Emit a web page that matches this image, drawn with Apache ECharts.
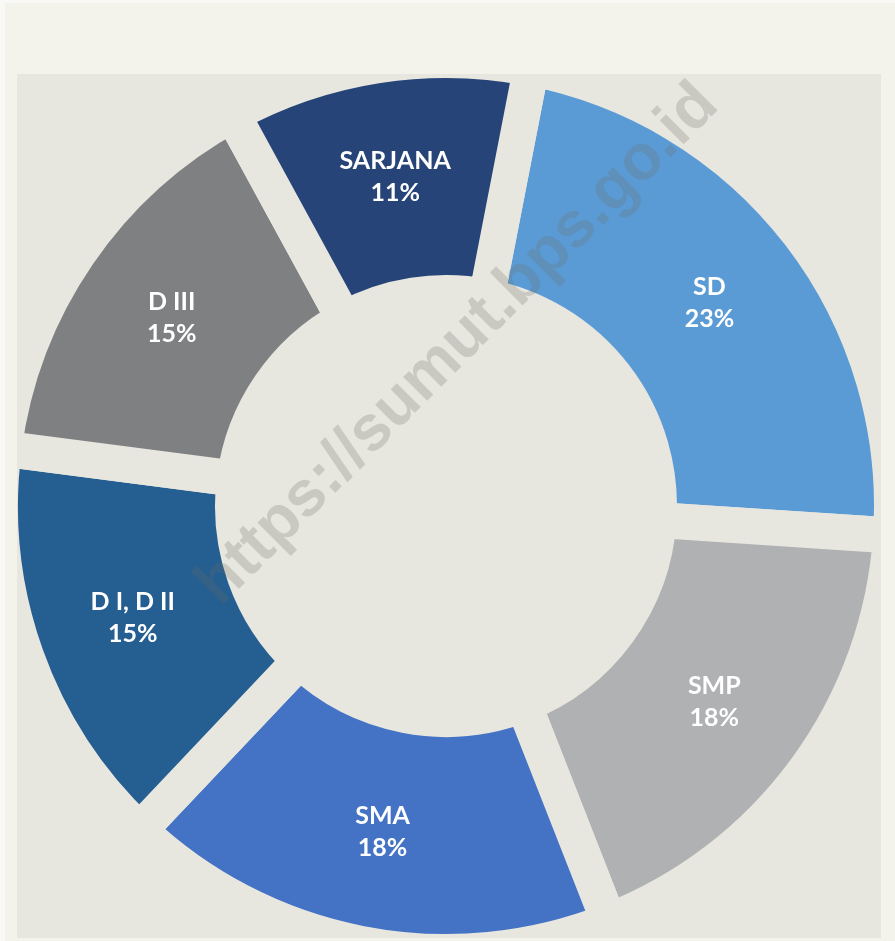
<!DOCTYPE html>
<html>
<head>
<meta charset="utf-8">
<script src="https://cdn.jsdelivr.net/npm/echarts@6/dist/echarts.min.js"></script>
<style>
  html, body { margin: 0; padding: 0; background: #f8f8f4; }
  #chart { width: 895px; height: 941px; }
</style>
</head>
<body>
<div id="chart"></div>
<script>
const categories = ["SD", "SMP", "SMA", "D I, D II", "D III", "SARJANA"]
const shares = [23, 18, 18, 15, 15, 11]
const colors = ["#5b9bd5", "#b0b1b3", "#4472c4", "#255e91", "#7f8082", "#264478"]

const pageBg = "#f8f8f4"
const panelBg = "#f3f3eb"
const innerBg = "#e7e6df"

// the frame round the inner plate is painted over the pie so the slice borders stay inside it
const frame = [
  {type: "rect", z: 50, shape: {x: 0, y: 0, width: 895, height: 74}, style: {fill: panelBg}},
  {type: "rect", z: 50, shape: {x: 0, y: 938, width: 895, height: 3}, style: {fill: panelBg}},
  {type: "rect", z: 50, shape: {x: 0, y: 0, width: 17, height: 941}, style: {fill: panelBg}},
  {type: "rect", z: 50, shape: {x: 881, y: 0, width: 14, height: 941}, style: {fill: panelBg}},
  {type: "rect", z: 51, shape: {x: 0, y: 0, width: 5, height: 941}, style: {fill: pageBg}},
  {type: "rect", z: 51, shape: {x: 0, y: 0, width: 895, height: 3}, style: {fill: pageBg}}
]

const chart = echarts.init(document.getElementById("chart"))
chart.setOption({
  animation: false,
  backgroundColor: innerBg,
  graphic: frame.concat([
    {
      type: "text",
      z: 100,
      x: 458,
      y: 345,
      rotation: Math.PI / 4,
      style: {
        text: "https://sumut.bps.go.id",
        font: 'bold 64px "Liberation Sans", Arial, sans-serif',
        fill: "rgba(110, 110, 100, 0.24)",
        textAlign: "center",
        textVerticalAlign: "middle"
      }
    }
  ]),
  series: [
    {
      type: "pie",
      center: [446, 506],
      radius: [213, 446],
      startAngle: 79,
      clockwise: true,
      silent: true,
      avoidLabelOverlap: false,
      itemStyle: {
        borderColor: innerBg,
        borderWidth: 36,
        borderJoin: "round"
      },
      label: {
        show: true,
        position: "inside",
        formatter: "{b}\n{c}%",
        color: "#ffffff",
        fontFamily: "Lato",
        fontWeight: "bold",
        fontSize: 25,
        lineHeight: 32
      },
      labelLine: {show: false},
      data: categories.map((name, i) => ({
        name: name,
        value: shares[i],
        itemStyle: {color: colors[i]}
      }))
    }
  ]
})
</script>
</body>
</html>
